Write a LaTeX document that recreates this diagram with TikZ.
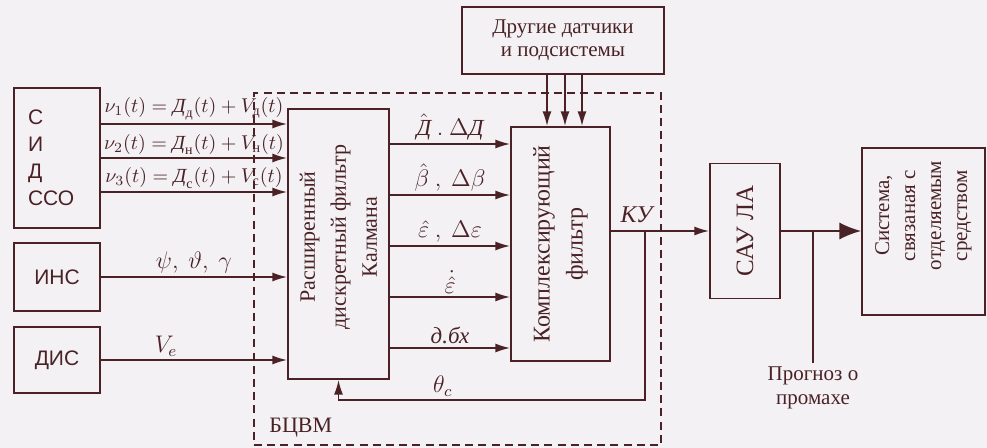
\documentclass[tikz,border=0pt]{standalone}
\usepackage{amsmath}
\usepackage{fontspec}
\setmainfont{Liberation Serif}
\setsansfont{Liberation Sans}
\usetikzlibrary{arrows.meta,positioning}
\definecolor{InkBrown}{RGB}{74,34,38}
\definecolor{PaperGray}{RGB}{243,241,244}
\newcommand{\Dm}{\text{\itshape Д}}
\tikzset{
  blk/.style={rectangle, draw=InkBrown, line width=0.9pt, inner sep=0pt},
  sansbox/.style={blk, font=\sffamily\fontsize{10.5}{13.5}\selectfont},
  vtext/.style={rotate=90, align=center, inner sep=0pt},
  cpu/.style={rectangle, draw=InkBrown, line width=0.8pt, dash pattern=on 4pt off 2.6pt, inner sep=0pt},
  arrow/.style={-{Latex[length=2.6mm,width=1.6mm]}, line width=0.85pt, draw=InkBrown},
  bigarrow/.style={-{Latex[length=3.8mm,width=3mm]}, line width=0.85pt, draw=InkBrown},
  wire/.style={line width=0.85pt, draw=InkBrown},
  sig/.style={inner sep=1.5pt, font=\fontsize{10}{12}\selectfont},
  outsig/.style={sig, font=\fontsize{11.5}{13}\selectfont}
}

\begin{document}
\begin{tikzpicture}[x=0.5pt, y=-0.5pt, every node/.style={text=InkBrown}]
  \fill[PaperGray] (0,0) rectangle (987,448);
  \node[cpu, minimum width=203.5pt, minimum height=176pt] (cpu) at (457.5,269) {};
  \node[sig, anchor=west, font=\fontsize{11}{12}\selectfont] (cpul) at (266,428) {БЦВМ};

  \node[sansbox, minimum width=43pt, minimum height=70pt, text width=29pt, align=left, inner xsep=7pt] (sid) at (57,158) {С\\И\\Д\\ССО};
  \node[sansbox, minimum width=43pt, minimum height=34pt] (ins) at (57,277) {ИНС};
  \node[sansbox, minimum width=43pt, minimum height=33pt] (dis) at (57,360) {ДИС};

  \node[blk, minimum width=50.5pt, minimum height=135pt] (kal) at (338.5,244) {};
  \node[vtext, font=\fontsize{11}{15.5}\selectfont] (kalt) at ([yshift=3.5pt]kal.center) {Расширенный\\дискретный фильтр\\Калмана};
  \node[blk, minimum width=49.5pt, minimum height=117pt] (comp) at (560.5,244) {};
  \node[vtext, font=\fontsize{12}{16.5}\selectfont] (compt) at (comp.center) {Комплексирующий\\фильтр};
  \node[blk, align=center, minimum width=101pt, minimum height=33.5pt, font=\fontsize{10.5}{11.5}\selectfont] (oth) at (563,40.5) {Другие датчики\\и подсистемы};
  \node[blk, minimum width=35pt, minimum height=67.5pt] (sau) at (745,231) {};
  \node[vtext, font=\fontsize{12.5}{14}\selectfont] (saut) at (sau.center) {САУ ЛА};
  \node[blk, minimum width=61.5pt, minimum height=83.5pt] (sys) at (923.5,231.5) {};
  \node[vtext, font=\fontsize{10.5}{13}\selectfont] (syst) at ([yshift=8pt]sys.center) {Система,\\связаная с\\отделяемым\\средством};

  \draw[arrow] ([yshift=17pt]sid.east) -- ([yshift=17pt]sid.east -| kal.west) node[sig, midway, above] {$\nu_1(t)=\Dm_{\text{д}}(t)+V_{\text{д}}(t)$};
  \draw[arrow] (sid.east) -- (sid.east -| kal.west) node[sig, midway, above] {$\nu_2(t)=\Dm_{\text{н}}(t)+V_{\text{н}}(t)$};
  \draw[arrow] ([yshift=-17pt]sid.east) -- ([yshift=-17pt]sid.east -| kal.west) node[sig, midway, above] {$\nu_3(t)=\Dm_{\text{с}}(t)+V_{\text{с}}(t)$};
  \draw[arrow] (ins.east) -- (ins.east -| kal.west) node[outsig, midway, above] {$\psi,\ \vartheta,\ \gamma$};
  \draw[arrow] (dis.east) -- (dis.east -| kal.west) node[outsig, pos=0.35, above] {$V_e$};

  \draw[arrow] ([yshift=50pt]kal.east) -- ([yshift=50pt]kal.east -| comp.west) node[outsig, midway, above] {$\hat{\Dm}\ .\ \Delta\Dm$};
  \draw[arrow] ([yshift=24.5pt]kal.east) -- ([yshift=24.5pt]kal.east -| comp.west) node[outsig, midway, above] {$\hat{\beta}\ ,\ \Delta\beta$};
  \draw[arrow] ([yshift=-1pt]kal.east) -- ([yshift=-1pt]kal.east -| comp.west) node[outsig, midway, above] {$\hat{\varepsilon}\ ,\ \Delta\varepsilon$};
  \draw[arrow] ([yshift=-26.5pt]kal.east) -- ([yshift=-26.5pt]kal.east -| comp.west) node[outsig, midway, above] {$\dot{\hat{\varepsilon}}$};
  \draw[arrow] ([yshift=-52pt]kal.east) -- ([yshift=-52pt]kal.east -| comp.west) node[outsig, midway, above] {\textit{д.бх}};

  \foreach \dx in {-8,1,9.5}
    \draw[arrow] ([xshift=\dx pt]oth.south) -- ([xshift=\dx pt]oth.south |- comp.north);

  \draw[arrow] ([yshift=6.5pt]comp.east) -- (sau.west) node[sig, pos=0.26, above=2pt, font=\fontsize{12}{14}\selectfont\itshape] {КУ};
  \coordinate (fb) at (645,400);
  \draw[arrow] (fb |- sau.west) -- (fb) -| (kal.south) node[sig, pos=0.33, above, font=\fontsize{12}{14}\selectfont] {$\theta_c$};

  \draw[bigarrow] (sau.east) -- (sau.east -| sys.west);
  \coordinate (pj) at (813,363);
  \draw[wire] (pj |- sau.east) -- (pj);
  \node[sig, align=center, below=0pt of pj, font=\fontsize{10.5}{12}\selectfont] (prog) {Прогноз о\\промахе};
\end{tikzpicture}
\end{document}
